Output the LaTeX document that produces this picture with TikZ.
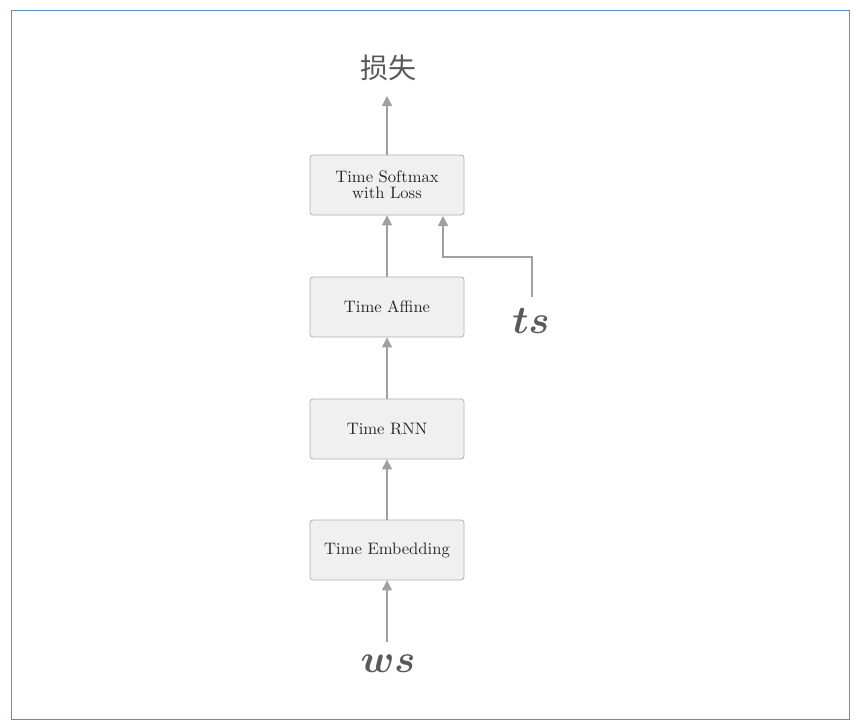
\documentclass[tikz,border=0pt]{standalone}
\usepackage{fontspec}
\usepackage{amsmath,bm}
\newfontfamily\cjk{Noto Sans CJK SC}
\usetikzlibrary{arrows.meta}
\definecolor{frame}{RGB}{80,150,200}
\definecolor{boxfill}{RGB}{240,240,240}
\definecolor{boxline}{RGB}{175,175,175}
\definecolor{arr}{RGB}{160,160,160}
\definecolor{txt}{RGB}{40,40,40}
\definecolor{lbl}{RGB}{90,90,90}
\begin{document}
\begin{tikzpicture}[x=1pt,y=-1pt,
  layerbox/.style={draw=boxline, fill=boxfill, rounded corners=3pt, line width=0.8pt,
    minimum width=154pt, minimum height=60pt, inner sep=0pt},
  boxtext/.style={text=txt, align=center, scale=1.66, inner sep=0pt,
    font=\fontsize{10}{9.8}\selectfont},
  conn/.style={draw=arr, line width=1.3pt, -{Triangle[length=10pt,width=10pt]}},
  mathlbl/.style={text=lbl, scale=1.9, inner sep=0pt}]
\useasboundingbox (0,0) rectangle (861,725);
\draw[frame, line width=1pt] (11,11) rectangle (849,719);
\node[layerbox] (sm) at (387,185) {};
\node[boxtext] (smt) at (sm.center) {Time Softmax\\with Loss};
\node[layerbox] (af) at (387,307) {};
\node[boxtext] (aft) at (af.center) {Time Affine};
\node[layerbox] (rnn) at (387,429) {};
\node[boxtext] (rnnt) at (rnn.center) {Time RNN};
\node[layerbox] (emb) at (387,550) {};
\node[boxtext] (embt) at (emb.center) {Time Embedding};
\node[text=lbl, font=\cjk\fontsize{28}{30}\selectfont, inner sep=0pt] (loss) at (388,68) {损失};
\node[mathlbl, font=\fontsize{20}{24}\selectfont] (ws) at (388,664) {$\boldsymbol{ws}$};
\node[mathlbl, font=\fontsize{20}{24}\selectfont] (ts) at (531,321) {$\boldsymbol{ts}$};
\coordinate (lossb) at (387,96);
\coordinate (wst) at (387,642);
\coordinate (tst) at (532,297);
\coordinate (smin) at (443,216);
\draw[conn] (sm.north) -- (lossb);
\draw[conn] (af.north) -- (sm.south);
\draw[conn] (rnn.north) -- (af.south);
\draw[conn] (emb.north) -- (rnn.south);
\draw[conn] (wst) -- (emb.south);
\draw[conn] (tst) -- (532,257) -- (443,257) -- (smin);
\end{tikzpicture}
\end{document}
